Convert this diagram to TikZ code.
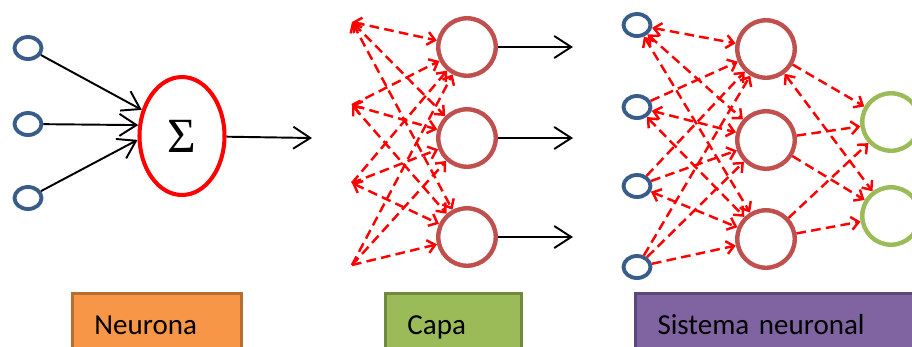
\documentclass[tikz,border=0pt]{standalone}
\usepackage{fontspec}
\setmainfont{Carlito}
\newfontfamily\sigmafont{Liberation Serif}
\usetikzlibrary{shapes.geometric, arrows.meta, positioning}
\definecolor{inputblue}{RGB}{56,93,138}
\definecolor{hiddenred}{RGB}{192,80,77}
\definecolor{outputgreen}{RGB}{155,187,89}
\definecolor{neuronafill}{RGB}{247,150,70}
\definecolor{neuronaedge}{RGB}{182,109,49}
\definecolor{capaedge}{RGB}{113,137,63}
\definecolor{sistemafill}{RGB}{128,100,162}
\definecolor{sistemaedge}{RGB}{92,71,118}

\begin{document}
\begin{tikzpicture}[
    x=0.02cm, y=-0.02cm,
    inp/.style={draw=inputblue, ellipse, line width=2.2pt, minimum width=0.54cm, minimum height=0.44cm, inner sep=0pt},
    unit/.style={draw=hiddenred, circle, line width=2.5pt, minimum size=1.15cm, inner sep=0pt},
    outunit/.style={unit, draw=outputgreen},
    sumnode/.style={draw=red, ellipse, line width=2.3pt, minimum width=1.7cm, minimum height=2.36cm, inner sep=0pt, font=\sigmafont\fontsize{28}{30}\selectfont},
    signal/.style={-{Straight Barb[length=3.4mm, width=4.4mm]}, line width=1.1pt, black},
    wire/.style={-{Straight Barb[length=1.5mm, width=2.6mm]}, line width=1.4pt, red, dash pattern=on 5.5pt off 3pt},
    wireboth/.style={wire, {Straight Barb[length=1.5mm, width=2.6mm]}-{Straight Barb[length=1.5mm, width=2.6mm]}},
    tag/.style={draw, line width=1.7pt, anchor=north west, minimum height=1.24cm, text height=0.4cm, text depth=0pt, inner xsep=0.44cm, align=left, font=\fontsize{16.5}{19}\selectfont}
]
    \useasboundingbox (0,0) rectangle (912,346);
    \clip (0,0) rectangle (912,346);

    % Neurona
    \node[inp] (in1) at (28,48) {};
    \node[inp] (in2) at (28,124) {};
    \node[inp] (in3) at (28,198) {};
    \node[sumnode] (sum) at (182,136) {Σ};
    \coordinate (sumout) at (312,138);
    \draw[signal] (in1) -- (sum.147);
    \draw[signal] (in2) -- (sum.166);
    \draw[signal] (in3) -- (sum.185);
    \draw[signal] (sum) -- (sumout);

    % Capa
    \coordinate (p1) at (352,22);
    \coordinate (p2) at (352,105);
    \coordinate (p3) at (352,183);
    \coordinate (p4) at (352,265);
    \node[unit] (c1) at (467,47) {};
    \node[unit] (c2) at (467,138) {};
    \node[unit] (c3) at (467,237) {};
    \coordinate (c1out) at (573,47);
    \coordinate (c2out) at (573,138);
    \coordinate (c3out) at (573,237);
    \draw[wireboth] (p1) -- (c1);
    \draw[wireboth] (p1) -- (c2);
    \draw[wireboth] (p1) -- (c3);
    \draw[wire] (p2) -- (c1);
    \draw[wireboth] (p2) -- (c2);
    \draw[wireboth] (p2) -- (c3);
    \draw[wire] (p3) -- (c1);
    \draw[wire] (p3) -- (c2);
    \draw[wireboth] (p3) -- (c3);
    \draw[wire] (p4) -- (c1);
    \draw[wire] (p4) -- (c2);
    \draw[wire] (p4) -- (c3);
    \draw[signal] (c1) -- (c1out);
    \draw[signal] (c2) -- (c2out);
    \draw[signal] (c3) -- (c3out);

    % Sistema neuronal
    \node[inp] (x1) at (637,25) {};
    \node[inp] (x2) at (637,107) {};
    \node[inp] (x3) at (637,186) {};
    \node[inp] (x4) at (637,267) {};
    \node[unit] (h1) at (766,49) {};
    \node[unit] (h2) at (766,140) {};
    \node[unit] (h3) at (766,239) {};
    \node[outunit] (y1) at (891,122) {};
    \node[outunit] (y2) at (891,216) {};
    \draw[wireboth] (x1) -- (h1);
    \draw[wireboth] (x1) -- (h2);
    \draw[wireboth] (x1) -- (h3);
    \draw[wire] (x2) -- (h1);
    \draw[wireboth] (x2) -- (h2);
    \draw[wireboth] (x2) -- (h3);
    \draw[wire] (x3) -- (h1);
    \draw[wire] (x3) -- (h2);
    \draw[wireboth] (x3) -- (h3);
    \draw[wire] (x4) -- (h1);
    \draw[wire] (x4) -- (h2);
    \draw[wire] (x4) -- (h3);
    \draw[wire] (h1) -- (y1);
    \draw[wireboth] (h1) -- (y2);
    \draw[wire] (h2) -- (y1);
    \draw[wire] (h2) -- (y2);
    \draw[wire] (h3) -- (y1);
    \draw[wire] (h3) -- (y2);

    % Labels
    \node[tag, fill=neuronafill, draw=neuronaedge, text width=2.5cm] (neurona) at (71,292) {Neurona};
    \node[tag, fill=outputgreen, draw=capaedge, text width=1.84cm] (capa) at (384,292) {Capa};
    \node[tag, fill=sistemafill, draw=sistemaedge, text width=5.04cm] (sistema) at (634,292) {Sistema neuronal};
\end{tikzpicture}
\end{document}
